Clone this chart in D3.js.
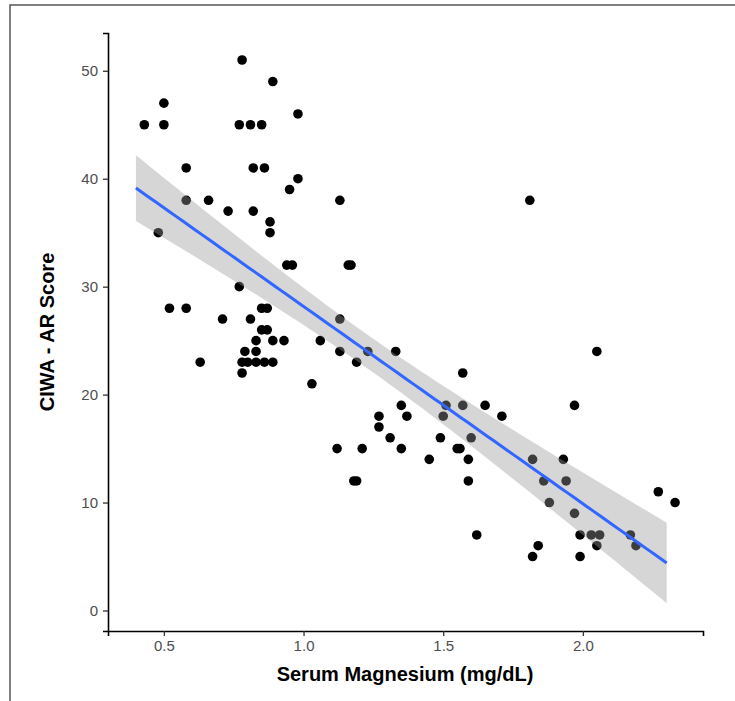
<!DOCTYPE html>
<html>
<head>
<meta charset="utf-8">
<script src="https://cdn.jsdelivr.net/npm/d3@7"></script>
<style>
  body { margin: 0; background: #fff; }
  text { font-family: "Liberation Sans", Arial, sans-serif; }
</style>
</head>
<body>
<svg id="vis" width="735" height="701"></svg>
<script>
// serum magnesium (mg/dL) per patient, as plotted (jittered)
const magnesium = [
  0.78, 0.89, 0.50, 0.43, 0.50, 0.77, 0.81, 0.85, 0.98, 0.58,
  0.82, 0.86, 0.98, 0.95, 0.58, 0.66, 0.73, 0.82, 0.88, 0.88,
  0.48, 0.94, 0.96, 0.77, 0.52, 0.58, 0.85, 0.87, 0.71, 0.81,
  0.85, 0.87, 0.83, 0.89, 0.93, 1.06, 0.79, 0.83, 0.63, 0.78,
  0.80, 0.83, 0.86, 0.89, 0.78, 1.03, 1.13, 1.16, 1.17, 1.13,
  1.13, 1.23, 1.33, 1.19, 1.57, 1.12, 1.18, 1.19, 1.21, 1.27,
  1.27, 1.31, 1.35, 1.35, 1.37, 2.05, 1.51, 1.57, 1.65, 1.71,
  1.97, 1.50, 1.49, 1.60, 1.55, 1.56, 1.45, 1.59, 1.82, 1.93,
  1.59, 1.86, 1.94, 2.27, 2.33, 1.88, 1.97, 1.62, 1.99, 2.03,
  2.06, 2.17, 2.19, 2.05, 1.84, 1.82, 1.99, 1.81
];
// CIWA-AR score, same order
const ciwa = [
  51, 49, 47, 45, 45, 45, 45, 45, 46, 41,
  41, 41, 40, 39, 38, 38, 37, 37, 36, 35,
  35, 32, 32, 30, 28, 28, 28, 28, 27, 27,
  26, 26, 25, 25, 25, 25, 24, 24, 23, 23,
  23, 23, 23, 23, 22, 21, 38, 32, 32, 27,
  24, 24, 24, 23, 22, 15, 12, 12, 15, 18,
  17, 16, 19, 15, 18, 24, 19, 19, 19, 18,
  19, 18, 16, 16, 15, 15, 14, 14, 14, 14,
  12, 12, 12, 11, 10, 10, 9, 7, 7, 7,
  7, 7, 6, 6, 6, 5, 5, 38
];

const xTicks = [0.5, 1.0, 1.5, 2.0];
const yTicks = [0, 10, 20, 30, 40, 50];
const xDomain = [0.30, 2.43];
const yDomain = [-1.9, 53.5];
const fitRange = [0.40, 2.30]; // range of the unjittered values
const tCrit = 1.985; // 95% level, df = n - 2

let vis = d3.select('#vis');

const x = d3.scaleLinear().domain(xDomain).range([108, 703]);
const y = d3.scaleLinear().domain(yDomain).range([631, 33]);

// outer frame
vis.append('rect')
  .attr('x', 10).attr('y', 5)
  .attr('width', 760).attr('height', 720)
  .attr('fill', 'none')
  .attr('stroke', '#555')
  .attr('stroke-width', 1.5);

// linear fit with confidence band (like geom_smooth(method = "lm"))
const pts = magnesium.map((m, i) => ({ m: m, s: ciwa[i] }));
const n = pts.length;
const mx = d3.mean(pts, d => d.m);
const my = d3.mean(pts, d => d.s);
const sxx = d3.sum(pts, d => (d.m - mx) ** 2);
const slope = d3.sum(pts, d => (d.m - mx) * (d.s - my)) / sxx;
const icpt = my - slope * mx;
const sigma = Math.sqrt(d3.sum(pts, d => (d.s - icpt - slope * d.m) ** 2) / (n - 2));
const fit = d3.range(81).map(k => {
  const xv = fitRange[0] + (fitRange[1] - fitRange[0]) * k / 80;
  const yv = icpt + slope * xv;
  const se = sigma * Math.sqrt(1 / n + (xv - mx) ** 2 / sxx);
  return { xv: xv, yv: yv, lo: yv - tCrit * se, hi: yv + tCrit * se };
});

// points
vis.append('g')
  .selectAll('circle')
  .data(pts)
  .enter()
  .append('circle')
  .attr('cx', d => x(d.m))
  .attr('cy', d => y(d.s))
  .attr('r', 4.8)
  .attr('fill', '#000');

vis.append('path')
  .datum(fit)
  .attr('d', d3.area().x(d => x(d.xv)).y0(d => y(d.lo)).y1(d => y(d.hi)))
  .attr('fill', '#999999')
  .attr('fill-opacity', 0.4);

vis.append('path')
  .datum(fit)
  .attr('d', d3.line().x(d => x(d.xv)).y(d => y(d.yv)))
  .attr('fill', 'none')
  .attr('stroke', '#3366FF')
  .attr('stroke-width', 3);

// axes
const xAxis = vis.append('g')
  .attr('transform', 'translate(0,631)')
  .call(d3.axisBottom(x).tickValues(xTicks).tickFormat(d3.format('.1f')).tickSizeOuter(0).tickSize(5).tickPadding(4));
const yAxis = vis.append('g')
  .attr('transform', 'translate(108,0)')
  .call(d3.axisLeft(y).tickValues(yTicks).tickSizeOuter(0).tickSize(5).tickPadding(5));

[xAxis, yAxis].forEach(g => {
  g.select('.domain').attr('stroke', '#000').attr('stroke-width', 1.6);
  g.selectAll('.tick line').attr('stroke', '#333').attr('stroke-width', 1.3);
  g.selectAll('.tick text')
    .attr('fill', '#4D4D4D')
    .style('font-size', '15px')
    .style('font-family', '"Liberation Sans", Arial, sans-serif');
});

vis.append('text')
  .attr('x', 405)
  .attr('y', 681)
  .attr('text-anchor', 'middle')
  .style('font-size', '20px')
  .style('font-weight', 'bold')
  .text('Serum Magnesium (mg/dL)');

vis.append('text')
  .attr('transform', 'translate(54,332) rotate(-90)')
  .attr('text-anchor', 'middle')
  .style('font-size', '20px')
  .style('font-weight', 'bold')
  .text('CIWA - AR Score');
</script>
</body>
</html>
